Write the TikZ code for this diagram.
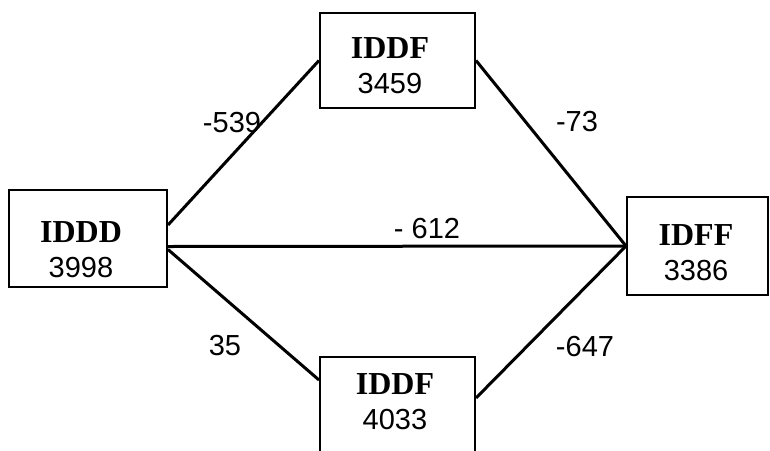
\documentclass[tikz,border=0pt]{standalone}
\usepackage{fontspec}
\setmainfont{Liberation Sans}
\newfontfamily\namefont{Liberation Serif}
\usetikzlibrary{arrows,positioning}

\begin{document}
\begin{tikzpicture}[-,x=0.5pt,y=-0.5pt]
\tikzstyle{block}=[rectangle,draw=black,line width=1pt,inner sep=0pt]
\tikzstyle{txt}=[align=center,inner sep=0pt,font=\fontsize{14.5}{17.5}\selectfont]
\tikzstyle{wt}=[inner sep=0pt,font=\fontsize{14.5}{17}\selectfont]
\tikzstyle{link}=[line width=1.5pt]
\newcommand{\nm}[1]{{\namefont\bfseries\fontsize{16}{17.5}\selectfont #1}}

\useasboundingbox (0,0) rectangle (770,450);

\node [block] (iddd) at(88,238.5)[minimum width=79pt,minimum height=48.5pt] {};
\node [block] (tddf) at(397.5,60.5)[minimum width=77.5pt,minimum height=47.5pt] {};
\node [block] (bddf) at(397.5,404.5)[minimum width=77.5pt,minimum height=47.5pt] {};
\node [block] (idff) at(697.5,246)[minimum width=70.5pt,minimum height=49pt] {};

\node [txt] (iddd-t) at(81,250) {\nm{IDDD}\\3998};
\node [txt] (tddf-t) at(390,66) {\nm{IDDF}\\3459};
\node [txt] (bddf-t) at(395,402) {\nm{IDDF}\\4033};
\node [txt] (idff-t) at(696,253) {\nm{IDFF}\\3386};

\path ([yshift=6.75pt]iddd.east) edge[link] (tddf.west);
\path ([yshift=-4pt]iddd.east) edge[link] (idff.west);
\path ([yshift=-5.5pt]iddd.east) edge[link] ([yshift=12.25pt]bddf.west);
\path (tddf.east) edge[link] (idff.west);
\path ([yshift=3.25pt]bddf.east) edge[link] (idff.west);

\node [wt] (w539) at(232,123) {-539};
\node [wt] (w73) at(577,122) {-73};
\node [wt] (w612) at(427,229) {- 612};
\node [wt] (w35) at(225,346) {35};
\node [wt] (w647) at(585,347) {-647};
\end{tikzpicture}
\end{document}
